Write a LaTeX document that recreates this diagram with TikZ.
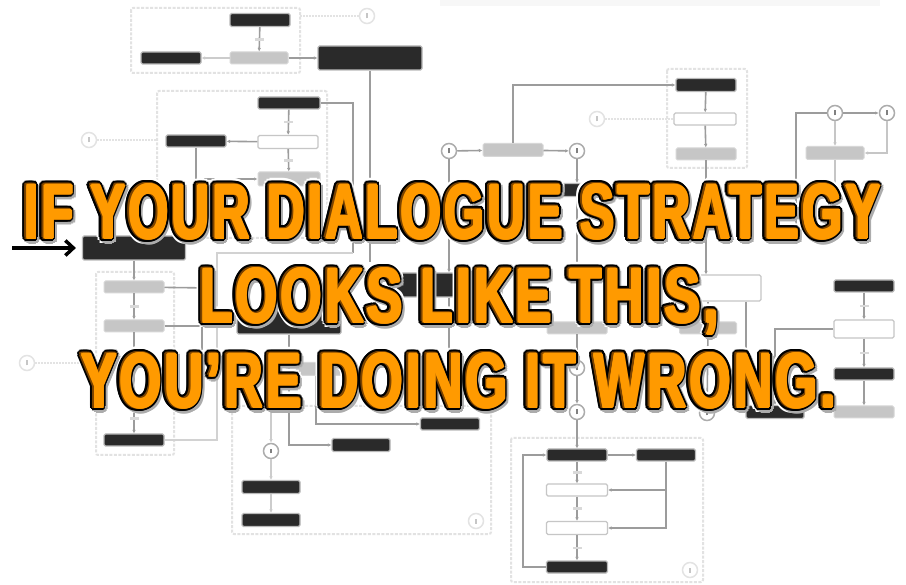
\documentclass[tikz,border=0pt]{standalone}
\usepackage{fontspec}
\setmainfont{Liberation Sans}
\newfontfamily\memefont{Liberation Sans}[LetterSpace=6]
\usetikzlibrary{calc, arrows.meta}

\definecolor{boxdark}{HTML}{2A2A2A}
\definecolor{boxgray}{HTML}{C6C6C6}
\definecolor{edgegray}{HTML}{9C9C9C}
\definecolor{framegray}{HTML}{E2E2E2}
\definecolor{memeorange}{HTML}{FF9A00}
\definecolor{memebrown}{HTML}{7A4300}

\tikzset{
  blk/.style={draw=gray!55, line width=1.2pt, fill=boxdark, rounded corners=1.5pt,
    minimum width=60pt, minimum height=12pt, inner sep=0pt},
  gry/.style={draw=boxgray!70!white, line width=1pt, fill=boxgray, rounded corners=1.5pt,
    minimum width=60pt, minimum height=12pt, inner sep=0pt},
  wht/.style={draw=gray!45, line width=1.2pt, fill=white, rounded corners=1.5pt,
    minimum width=60pt, minimum height=12pt, inner sep=0pt},
  hub/.style={circle, draw=gray!65, line width=1.5pt, fill=white, text=gray,
    minimum size=15pt, inner sep=0pt},
  hubfaint/.style={hub, draw=gray!22, text=gray!45},
  conn/.style={draw=edgegray, line width=1.6pt},
  connfaint/.style={draw=gray!22, line width=1.5pt, dash pattern=on 2pt off 1pt},
  frame/.style={draw=framegray, line width=2pt, dash pattern=on 3pt off 1.5pt, rounded corners=2pt},
  lbl/.style={fill=gray!30, minimum width=9pt, minimum height=2.5pt, inner sep=0pt},
  ahead/.style={-{Latex[length=3.5pt, width=3.5pt]}},
  memetext/.style={anchor=base west, inner sep=0pt, font=\memefont\bfseries},
}

\newcommand{\capht}{54pt}
\newcommand{\hubmark}{\rule{2.5pt}{5pt}}
% one line of the caption: name, base west point, width, text
\newcommand{\memeline}[4]{%
  \foreach \ang in {0,30,...,330}
    \node[memetext, text=white] at ($(#2)+(\ang:6)$) {\resizebox{#3}{\capht}{#4}};
  \foreach \ang in {0,30,...,330}
    \node[memetext, text=gray!65] at ($(#2)+(2,2.5)+(\ang:4)$) {\resizebox{#3}{\capht}{#4}};
  \foreach \ang in {0,20,...,340}
    \node[memetext, text=black] at ($(#2)+(\ang:4)$) {\resizebox{#3}{\capht}{#4}};
  \foreach \ang in {0,45,...,315}
    \node[memetext, text=memebrown] at ($(#2)+(\ang:1.8)$) {\resizebox{#3}{\capht}{#4}};
  \foreach \ang in {0,60,...,300}
    \node[memetext, text=memeorange] at ($(#2)+(1.2,0.6)+(\ang:1.2)$) {\resizebox{#3}{\capht}{#4}};
  \node[memetext, text=memeorange] (#1) at ($(#2)+(1.2,0.6)$) {\resizebox{#3}{\capht}{#4}};
}

\begin{document}
\begin{tikzpicture}[x=1pt, y=-1pt]
    \useasboundingbox[fill=white] (0,0) rectangle (906,585);
    \fill[gray!6] (440,0) rectangle (880,6);
    % Draw the frames
    \draw[frame] (131,8) rectangle (300,73);
    \draw[frame] (157,91) rectangle (327,238);
    \draw[frame] (667,69) rectangle (747,168);
    \draw[frame] (96,272) rectangle (174,455);
    \draw[frame] (232,406) rectangle (491,534);
    \draw[frame] (511,438) rectangle (703,582);
    % Top left frame
    \node[blk, minimum height=13pt] (a1) at (260,20) {};
    \node[blk] (a2) at (171,58) {};
    \node[gry, minimum width=58pt] (a3) at (259,58) {};
    \node[hubfaint] (ha) at (367,16) {\hubmark};
    \node[blk, minimum width=104pt, minimum height=24pt] (big1) at (370,58) {};
    \coordinate (fa) at (300,16);
    \coordinate (big1end) at (370,262);
    \draw[conn, ahead] (a1) -- node[lbl] {} (a3);
    \draw[conn, gray!40, ahead] (a3) -- (a2);
    \draw[conn, ahead] (a3) -- (big1);
    \draw[connfaint] (fa) -- (ha);
    \draw[conn] (big1) -- (big1end);
    % Second frame
    \node[blk, minimum width=62pt] (b1) at (289,103) {};
    \node[blk] (b2) at (196,141) {};
    \node[wht, minimum height=13pt] (b3) at (288,142) {};
    \node[gry, minimum width=62pt, minimum height=14pt] (b4) at (289,179) {};
    \node[hubfaint] (hb) at (89,140) {\hubmark};
    \coordinate (fb) at (157,140);
    \coordinate (jb) at (353,253);
    \draw[connfaint] (hb) -- (fb);
    \draw[conn, ahead] (b1) -- node[lbl] {} (b3);
    \draw[conn, ahead] (b3) -- (b2);
    \draw[conn, ahead] (b3) -- node[lbl] {} (b4);
    \draw[conn, ahead] (b2) |- (b4);
    \draw[conn] (b1) -| (jb);
    % Start node and left frame
    \coordinate (in) at (12,248);
    \node[blk, minimum width=103pt, minimum height=24pt] (start) at (134,248) {};
    \draw[line width=3.5pt, shorten >=6pt, -{Straight Barb[length=8pt, width=15pt]}] (in) -- (start);
    \node[gry] (d1) at (134,287) {};
    \node[gry] (d2) at (134,326) {};
    \node[blk] (d3) at (134,440) {};
    \node[hubfaint] (hd) at (27,363) {\hubmark};
    \coordinate (fd) at (96,363);
    \coordinate (d1r) at (210,288);
    \coordinate (d2r) at (202,352);
    \coordinate (kd) at (217,253);
    \draw[connfaint] (hd) -- (fd);
    \draw[conn, ahead] (start) -- (d1);
    \draw[conn, ahead] (d1) -- node[lbl] {} (d2);
    \draw[conn, ahead] (d2) -- node[lbl, pos=0.85] {} (d3);
    \draw[conn] (d1) -- (d1r);
    \draw[conn] (d2) -| (d2r);
    \draw[conn, gray!35, line width=2.5pt] (d3) -| (kd) -- (jb);
    % Middle
    \node[hub] (hm1) at (449,151) {\hubmark};
    \node[gry, minimum height=13pt] (m1) at (513,150) {};
    \node[hub] (hm2) at (577,151) {\hubmark};
    \node[blk, minimum width=64pt, minimum height=13pt] (m2) at (577,190) {};
    \node[blk, minimum width=106pt, minimum height=24pt] (big2) at (449,285) {};
    \node[blk, minimum width=104pt, minimum height=24pt] (big3) at (289,322) {};
    \node[gry, minimum height=13pt] (g1) at (316,369) {};
    \node[gry] (g2) at (577,328) {};
    \node[hub] (hu) at (577,368) {\hubmark};
    \node[hub] (hf) at (577,412) {\hubmark};
    \coordinate (big2end) at (449,395);
    \draw[conn, ahead] (hm1) -- (m1);
    \draw[conn, ahead] (m1) -- (hm2);
    \draw[conn, ahead] (hm1) -- (big2);
    \draw[conn, ahead] (hm2) -- (m2);
    \draw[conn, ahead] (m2) -- (g2);
    \draw[conn, ahead] (g2) -- (hu);
    \draw[conn, ahead] (hu) -- (hf);
    \draw[conn] (big2) -- (big2end);
    % Bottom middle frame
    \node[hub] (he) at (271,451) {\hubmark};
    \node[blk, minimum width=58pt, minimum height=13pt] (e1) at (271,487) {};
    \node[blk, minimum width=58pt, minimum height=13pt] (e2) at (271,520) {};
    \node[blk, minimum width=58pt, minimum height=13pt] (e3) at (361,445) {};
    \node[blk, minimum width=59pt] (e4) at (450,424) {};
    \node[hubfaint] (hec) at (476,521) {\hubmark};
    \coordinate (ein) at (271,398);
    \draw[conn, gray!40, ahead] (ein) -- (he);
    \draw[conn, gray!40, ahead] (he) -- (e1);
    \draw[conn, gray!40, ahead] (e1) -- (e2);
    \draw[conn, ahead] (big3) |- (e3);
    \draw[conn, ahead] (g1) |- (e4);
    % Top right frame
    \node[blk, minimum height=13pt] (c1) at (706,85) {};
    \node[wht, minimum width=62pt] (c2) at (705,119) {};
    \node[gry] (c3) at (706,154) {};
    \node[hubfaint] (hc) at (597,119) {\hubmark};
    \draw[conn, ahead] (m1) |- (c1);
    \draw[connfaint] (hc) -- (c2);
    \draw[conn, ahead] (c1) -- (c2);
    \draw[conn, ahead] (c2) -- (c3);
    % Far top right
    \node[hub] (hn) at (835,113) {\hubmark};
    \node[hub] (hp) at (887,113) {\hubmark};
    \node[gry, minimum width=58pt, minimum height=13pt] (n1) at (835,153) {};
    \coordinate (hnl) at (796,232);
    \coordinate (n1end) at (835,232);
    \draw[conn, ahead] (hn) -- (hp);
    \draw[conn] (hn) -| (hnl);
    \draw[conn, gray!45, ahead] (hn) -- (n1);
    \draw[conn, gray!45] (n1) -- (n1end);
    \draw[conn, gray!45, ahead] (hp) |- (n1);
    % Right middle
    \node[wht, minimum width=68pt, minimum height=26pt] (r1) at (727,288) {};
    \node[gry, minimum width=57pt] (g3) at (708,328) {};
    \node[blk, minimum width=58pt, minimum height=13pt] (h1) at (775,412) {};
    \node[hub] (hr) at (707,413) {\hubmark};
    \coordinate (r1end) at (746,398);
    \draw[conn, ahead] (c3) -- (c3 |- r1.north);
    \draw[conn, ahead] (g3 |- r1.south) -- (g3);
    \draw[conn, ahead] (g3) -- (hr);
    \draw[conn] (r1.south -| r1end) -- (r1end);
    % Right column
    \node[blk] (q1) at (864,286) {};
    \node[wht, minimum height=18pt] (q2) at (864,329) {};
    \node[blk] (q3) at (864,374) {};
    \node[gry] (q4) at (864,412) {};
    \draw[conn, ahead] (q1) -- node[lbl] {} (q2);
    \draw[conn, ahead] (q2) -- node[lbl] {} (q3);
    \draw[conn, ahead] (q3) -- (q4);
    \draw[conn, ahead] (q2) -| (h1);
    % Bottom right frame
    \node[blk] (f1) at (577,455) {};
    \node[blk, minimum width=59pt] (f2) at (666,455) {};
    \node[wht, minimum width=61pt] (f3) at (577,490) {};
    \node[wht, minimum width=61pt, minimum height=13pt] (f4) at (577,528) {};
    \node[blk, minimum width=61pt] (f5) at (577,567) {};
    \node[hubfaint] (hfc) at (690,570) {\hubmark};
    \coordinate (floop) at (523,510);
    \draw[conn, ahead] (hf) -- (f1);
    \draw[conn, ahead] (f1) -- (f2);
    \draw[conn, ahead] (f1) -- node[lbl] {} (f3);
    \draw[conn, ahead] (f3) -- node[lbl] {} (f4);
    \draw[conn, ahead] (f4) -- node[lbl] {} (f5);
    \draw[conn, ahead] (f5) -| (floop) |- (f1);
    \draw[conn, ahead] (f2) |- (f3);
    \draw[conn, ahead] (f2) |- (f4);
    % The caption
    \memeline{line1}{23,238}{856pt}{IF YOUR DIALOGUE STRATEGY}
    \memeline{line2}{199,322}{518pt}{LOOKS LIKE THIS,}
    \memeline{line3}{80,407}{754pt}{YOU’RE DOING IT WRONG.}
\end{tikzpicture}
\end{document}
